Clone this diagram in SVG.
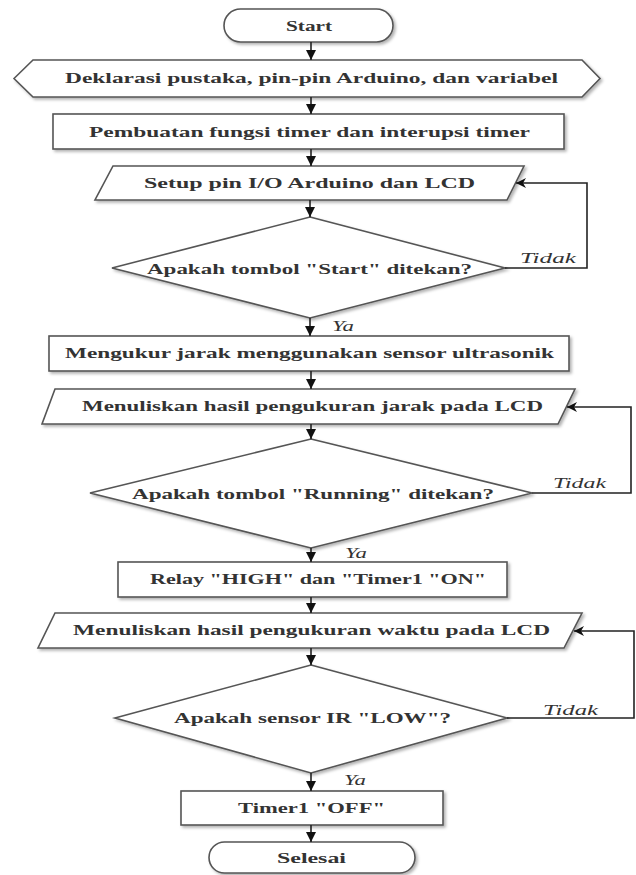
<svg xmlns="http://www.w3.org/2000/svg" width="636" height="875" viewBox="0 0 636 875">
<defs>
<filter id="sh" x="-5%" y="-20%" width="110%" height="150%">
<feDropShadow dx="2" dy="2" stdDeviation="1.5" flood-color="#000" flood-opacity="0.3"/>
</filter>
<marker id="ah" markerUnits="userSpaceOnUse" markerWidth="12" markerHeight="12" refX="10" refY="5" orient="auto">
<path d="M0,0 L10,5 L0,10 L3,5 Z" fill="#111"/>
</marker>
<marker id="av" markerUnits="userSpaceOnUse" markerWidth="12" markerHeight="12" refX="10" refY="5" orient="auto">
<path d="M0,0 L10,5 L0,10 Z" fill="#111"/>
</marker>
</defs>
<style>
.s{fill:#fff;stroke:#555;stroke-width:1.6;filter:url(#sh)}
.t{font-family:"Liberation Serif","Times New Roman",serif;font-size:14px;font-weight:bold;fill:#333}
.l{font-family:"Liberation Serif","Times New Roman",serif;font-size:14px;font-style:italic;fill:#333}
.c{fill:none;stroke:#222;stroke-width:1.6}
</style>
<g id="n_start"><rect class="s" x="224" y="9" width="169" height="33" rx="16.5"/><text class="t" x="286" y="31" textLength="46" lengthAdjust="spacingAndGlyphs">Start</text></g>
<g id="n_deklarasi"><polygon class="s" points="14,78.5 33,60 582,60 600,78.5 582,97 33,97"/><text class="t" x="65" y="83" textLength="493" lengthAdjust="spacingAndGlyphs">Deklarasi pustaka, pin-pin Arduino, dan variabel</text></g>
<g id="n_pembuatan"><rect class="s" x="53" y="114" width="511" height="35"/><text class="t" x="89" y="136.5" textLength="441" lengthAdjust="spacingAndGlyphs">Pembuatan fungsi timer dan interupsi timer</text></g>
<g id="n_setup"><polygon class="s" points="113,166 524,166 507,200 95,200"/><text class="t" x="144" y="188" textLength="331" lengthAdjust="spacingAndGlyphs">Setup pin I/O  Arduino dan LCD</text></g>
<g id="n_d1"><polygon class="s" points="310,217 505,268 310,318 112,268"/><text class="t" x="147" y="273.5" textLength="325" lengthAdjust="spacingAndGlyphs">Apakah tombol "Start" ditekan?</text></g>
<g id="n_mengukur"><rect class="s" x="49" y="336" width="520" height="35"/><text class="t" x="65" y="358" textLength="489" lengthAdjust="spacingAndGlyphs">Mengukur jarak menggunakan sensor ultrasonik</text></g>
<g id="n_jarak"><polygon class="s" points="55,389 575,389 558,424 42,424"/><text class="t" x="82" y="411" textLength="461" lengthAdjust="spacingAndGlyphs">Menuliskan hasil pengukuran jarak pada LCD</text></g>
<g id="n_d2"><polygon class="s" points="311,439 532,493 311,548 90,493"/><text class="t" x="132" y="498.5" textLength="362" lengthAdjust="spacingAndGlyphs">Apakah tombol "Running" ditekan?</text></g>
<g id="n_relay"><rect class="s" x="118" y="562" width="389" height="35"/><text class="t" x="150" y="584" textLength="336" lengthAdjust="spacingAndGlyphs">Relay "HIGH" dan "Timer1 "ON"</text></g>
<g id="n_waktu"><polygon class="s" points="55,613 582,613 564,648 38,648"/><text class="t" x="73" y="635" textLength="477" lengthAdjust="spacingAndGlyphs">Menuliskan hasil pengukuran waktu pada LCD</text></g>
<g id="n_d3"><polygon class="s" points="311,665 507,718 311,773 115,718"/><text class="t" x="174" y="723" textLength="277" lengthAdjust="spacingAndGlyphs">Apakah sensor IR "LOW"?</text></g>
<g id="n_timeroff"><rect class="s" x="181" y="791" width="262" height="34"/><text class="t" x="238" y="813" textLength="147" lengthAdjust="spacingAndGlyphs">Timer1  "OFF"</text></g>
<g id="n_selesai"><rect class="s" x="209" y="842" width="206" height="31" rx="15.5"/><text class="t" x="277" y="863" textLength="69" lengthAdjust="spacingAndGlyphs">Selesai</text></g>
<g id="connectors">
<line class="c" x1="311" y1="42" x2="311" y2="60" marker-end="url(#av)"/>
<line class="c" x1="311" y1="97" x2="311" y2="114" marker-end="url(#av)"/>
<line class="c" x1="311" y1="149" x2="311" y2="166" marker-end="url(#av)"/>
<line class="c" x1="310" y1="200" x2="310" y2="217" marker-end="url(#av)"/>
<line class="c" x1="310" y1="318" x2="310" y2="336" marker-end="url(#av)"/>
<line class="c" x1="311" y1="371" x2="311" y2="389" marker-end="url(#av)"/>
<line class="c" x1="311" y1="424" x2="311" y2="439" marker-end="url(#av)"/>
<line class="c" x1="311" y1="548" x2="311" y2="562" marker-end="url(#av)"/>
<line class="c" x1="311" y1="597" x2="311" y2="613" marker-end="url(#av)"/>
<line class="c" x1="311" y1="648" x2="311" y2="665" marker-end="url(#av)"/>
<line class="c" x1="311" y1="773" x2="311" y2="791" marker-end="url(#av)"/>
<line class="c" x1="311" y1="825" x2="311" y2="842" marker-end="url(#av)"/>
<polyline class="c" points="505,268 587,268 587,183 516,183" marker-end="url(#ah)"/>
<polyline class="c" points="532,493 631,493 631,407 567,407" marker-end="url(#ah)"/>
<polyline class="c" points="507,718 634,718 634,631 574,631" marker-end="url(#ah)"/>
<text class="l" x="520" y="263" textLength="56" lengthAdjust="spacingAndGlyphs">Tidak</text>
<text class="l" x="553" y="488" textLength="53" lengthAdjust="spacingAndGlyphs">Tidak</text>
<text class="l" x="543" y="715" textLength="55" lengthAdjust="spacingAndGlyphs">Tidak</text>
<text class="l" x="332" y="331" textLength="22" lengthAdjust="spacingAndGlyphs">Ya</text>
<text class="l" x="345" y="558" textLength="22" lengthAdjust="spacingAndGlyphs">Ya</text>
<text class="l" x="344" y="785" textLength="22" lengthAdjust="spacingAndGlyphs">Ya</text>
</g>
</svg>
